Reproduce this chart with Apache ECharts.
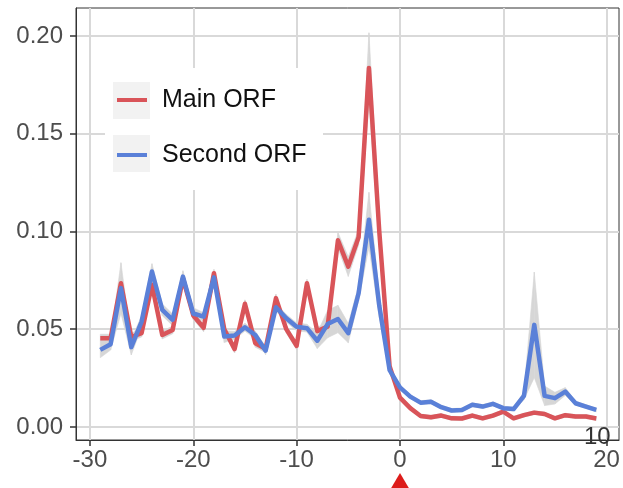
<!DOCTYPE html>
<html>
<head>
<meta charset="utf-8">
<script src="https://cdn.jsdelivr.net/npm/echarts@6/dist/echarts.min.js"></script>
<style>html,body{margin:0;padding:0;background:#fff}#c{width:623px;height:488px}</style>
</head>
<body>
<div id="c"></div>
<script>
var positions = [-29,-28,-27,-26,-25,-24,-23,-22,-21,-20,-19,-18,-17,-16,-15,-14,-13,-12,-11,-10,-9,-8,-7,-6,-5,-4,-3,-2,-1,0,1,2,3,4,5,6,7,8,9,10,11,12,13,14,15,16,17,18,19];
var mainOrf = [0.0454,0.0454,0.0735,0.046,0.048,0.0727,0.047,0.0496,0.076,0.057,0.0507,0.0786,0.050,0.0398,0.063,0.0428,0.040,0.0659,0.050,0.0415,0.0735,0.049,0.0513,0.0955,0.082,0.097,0.1836,0.100,0.031,0.015,0.0096,0.0056,0.0049,0.0058,0.0044,0.0043,0.0058,0.0044,0.0058,0.0078,0.0044,0.006,0.0073,0.0066,0.0044,0.006,0.0053,0.0053,0.0043];
var mainErr = [0.002,0.002,0.004,0.002,0.002,0.003,0.002,0.002,0.003,0.002,0.002,0.002,0.002,0.002,0.002,0.002,0.002,0.002,0.002,0.002,0.002,0.002,0.002,0.004,0.005,0.004,0.018,0.008,0.002,0.001,0.001,0.001,0.001,0.001,0.001,0.001,0.001,0.001,0.001,0.001,0.001,0.001,0.001,0.001,0.001,0.001,0.001,0.001,0.001];
var secondOrf = [0.0394,0.0423,0.071,0.0408,0.0539,0.0795,0.0599,0.0548,0.0769,0.058,0.0564,0.0765,0.0462,0.0468,0.051,0.047,0.039,0.0612,0.0556,0.0512,0.0505,0.0441,0.0526,0.0552,0.048,0.0684,0.106,0.062,0.029,0.0202,0.0155,0.0124,0.0129,0.0101,0.0084,0.0087,0.0113,0.0104,0.0118,0.0096,0.0091,0.0159,0.0522,0.0159,0.0147,0.0181,0.0121,0.0104,0.0087];
var secondErr = [0.004,0.003,0.013,0.004,0.003,0.004,0.003,0.003,0.003,0.003,0.002,0.003,0.003,0.002,0.002,0.002,0.002,0.002,0.002,0.002,0.002,0.004,0.007,0.007,0.005,0.004,0.014,0.006,0.002,0.001,0.001,0.001,0.001,0.001,0.001,0.001,0.001,0.001,0.001,0.001,0.001,0.002,0.027,0.005,0.003,0.002,0.001,0.001,0.001];
var xTicks = [-30,-20,-10,0,10,20];
var yTicks = [0,0.05,0.10,0.15,0.20];
var seriesNames = ['Main ORF','Second ORF'];

function pairs(vals){ return positions.map(function(p,i){ return [p, vals[i]]; }); }

var FONT = '"Liberation Sans", Arial, sans-serif';
var RED = '#d95459', BLUE = '#5a80d8';

function bandSeries(vals, err){
  var data = positions.map(function(p,i){ return [p, vals[i]-err[i], vals[i]+err[i]]; });
  return {
    type:'custom', silent:true, z:1,
    data: data,
    encode:{x:0, y:[1,2]},
    renderItem:function(params, api){
      var i = params.dataIndex;
      if (i >= data.length - 1) return null;
      var a = data[i], b = data[i+1];
      var pts = [api.coord([a[0], a[1]]), api.coord([b[0], b[1]]), api.coord([b[0], b[2]]), api.coord([a[0], a[2]])];
      return {type:'polygon', shape:{points:pts}, style:{fill:'#d6d6d6', stroke:'#d6d6d6', lineWidth:0.6}};
    }
  };
}

var chart = echarts.init(document.getElementById('c'));
chart.setOption({
  animation:false,
  grid:{left:76, top:8, right:4, bottom:48, show:true, borderColor:'#333', borderWidth:1},
  xAxis:{type:'value', min:-31.35, max:21.2,
    axisLine:{show:true, onZero:false, lineStyle:{color:'#333', width:1}},
    axisTick:{show:true, customValues:xTicks, length:6, lineStyle:{color:'#333', width:1.5}},
    axisLabel:{customValues:xTicks, fontSize:24, color:'#4d4d4d', fontFamily:FONT, margin:8},
    splitLine:{show:true, lineStyle:{color:'#d9d9d9', width:2}}},
  yAxis:{type:'value', min:-0.0067, max:0.2143,
    axisLine:{show:true, onZero:false, lineStyle:{color:'#333', width:1}},
    axisTick:{show:true, customValues:yTicks, length:6, lineStyle:{color:'#333', width:1.5}},
    axisLabel:{customValues:yTicks, fontSize:24, color:'#4d4d4d', fontFamily:FONT, margin:13,
      formatter:function(v){return v.toFixed(2);}},
    splitLine:{show:true, lineStyle:{color:'#d9d9d9', width:2}}},
  legend:[
    {data:[seriesNames[0]], left:117, top:85, padding:0, icon:'rect', itemWidth:30, itemHeight:4,
     textStyle:{fontSize:25, color:'#111', fontFamily:FONT, lineHeight:30, padding:[0,0,0,10]}, selectedMode:false},
    {data:[seriesNames[1]], left:117, top:140, padding:0, icon:'rect', itemWidth:30, itemHeight:4,
     textStyle:{fontSize:25, color:'#111', fontFamily:FONT, lineHeight:30, padding:[0,0,0,10]}, selectedMode:false}
  ],
  graphic:[
    {type:'rect', shape:{x:105, y:68, width:218, height:122}, style:{fill:'#fff'}, z:1, silent:true},
    {type:'rect', shape:{x:113, y:82, width:37, height:37}, style:{fill:'#f2f2f2'}, z:3, silent:true},
    {type:'rect', shape:{x:113, y:135, width:37, height:37}, style:{fill:'#f2f2f2'}, z:3, silent:true},
    {type:'text', left:584, top:425, style:{text:'10', fontSize:24, fill:'#333', fontFamily:FONT}, z:6, silent:true},
    {type:'polygon', shape:{points:[[400,473],[390,490],[410,490]]}, style:{fill:'#dd1c1a'}, z:6, silent:true}
  ],
  series: [
    bandSeries(mainOrf, mainErr),
    bandSeries(secondOrf, secondErr),
    {type:'line', name:seriesNames[0], data:pairs(mainOrf), symbol:'none', color:RED, lineStyle:{color:RED, width:4.5, join:'round'}, z:3},
    {type:'line', name:seriesNames[1], data:pairs(secondOrf), symbol:'none', color:BLUE, lineStyle:{color:BLUE, width:4.5, join:'round'}, z:4}
  ]
});
</script>
</body>
</html>
